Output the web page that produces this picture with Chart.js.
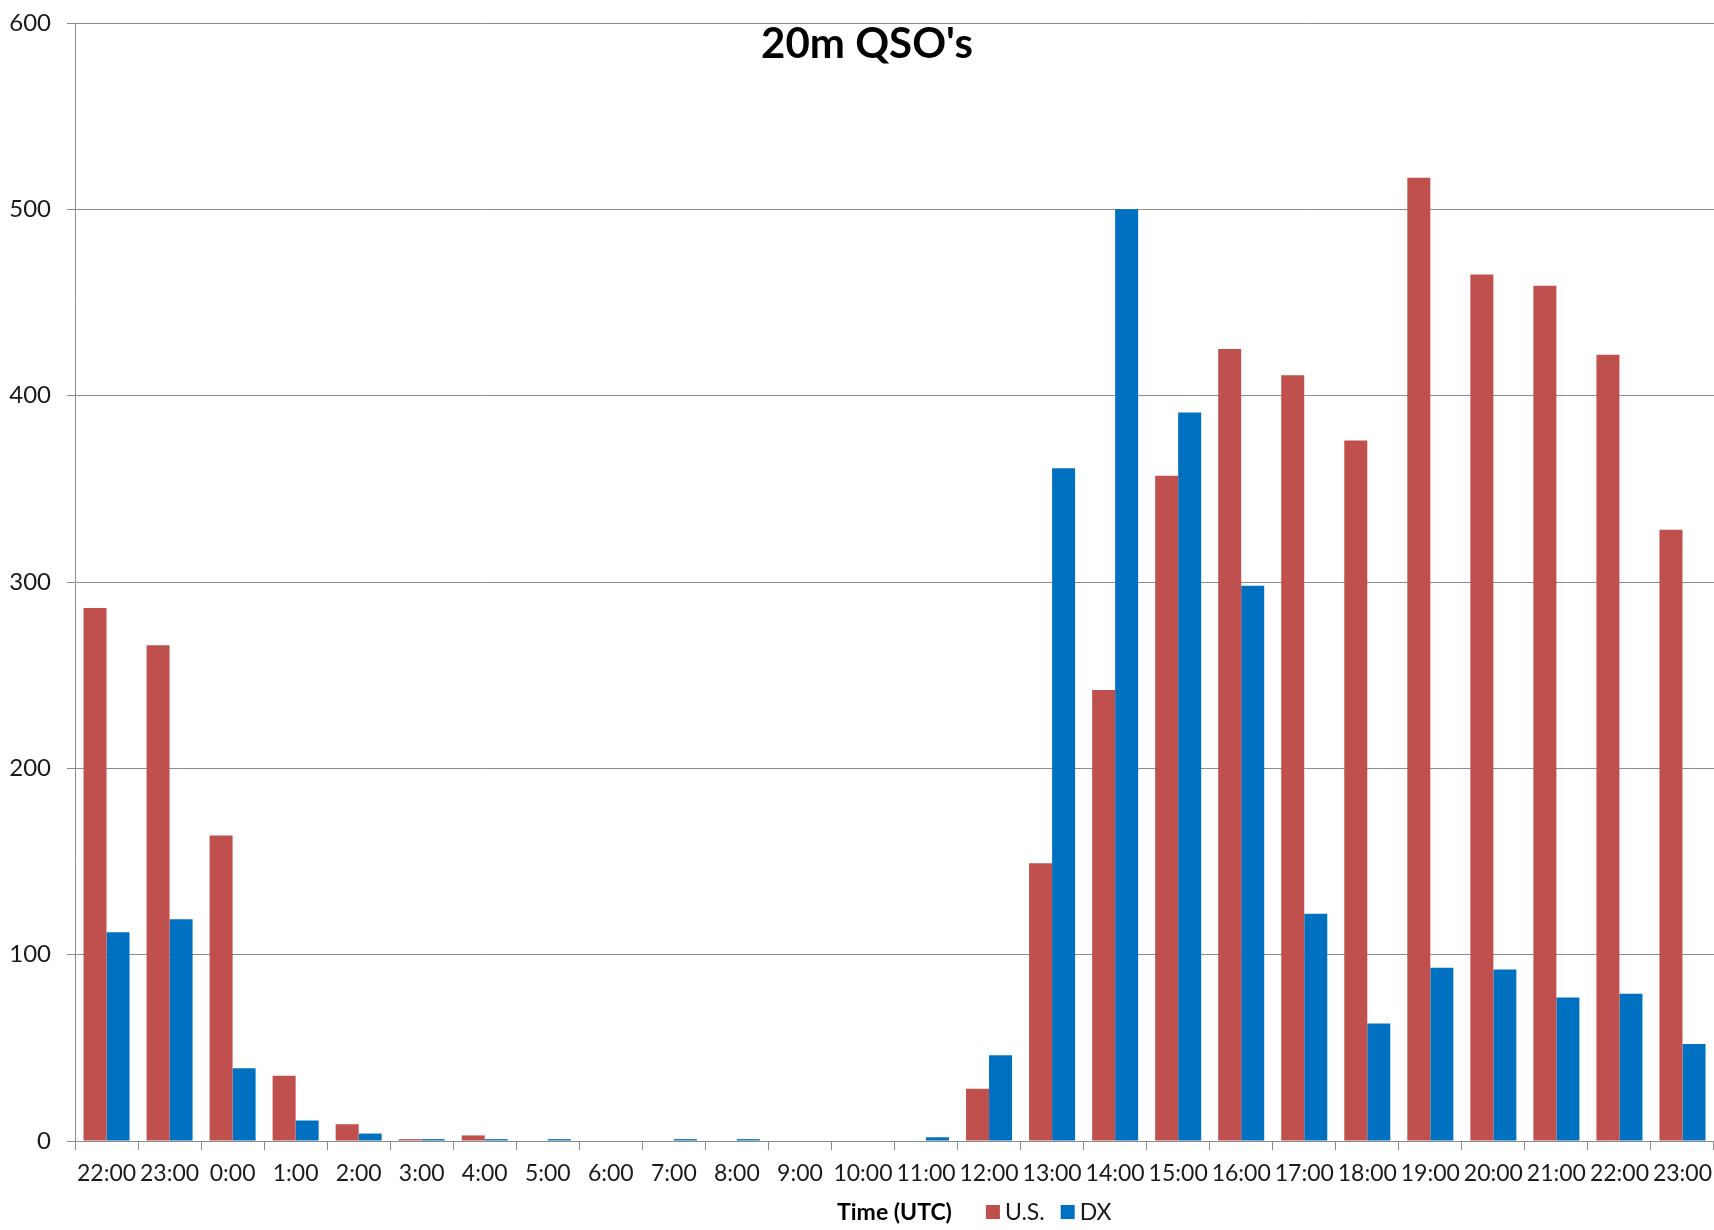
<!DOCTYPE html>
<html>
<head>
<meta charset="utf-8">
<title>20m QSO's</title>
<script src="https://cdn.jsdelivr.net/npm/chart.js@4/dist/chart.umd.min.js"></script>
<style>
  html, body { margin: 0; padding: 0; background: #ffffff; }
  canvas { display: block; }
</style>
</head>
<body>
<canvas id="qsoChart" width="1714" height="1230"></canvas>
<script>
// Hourly 20m contacts, split by U.S. stations and DX stations
const hours = ['22:00', '23:00', '0:00', '1:00', '2:00', '3:00', '4:00', '5:00', '6:00',
  '7:00', '8:00', '9:00', '10:00', '11:00', '12:00', '13:00', '14:00', '15:00', '16:00',
  '17:00', '18:00', '19:00', '20:00', '21:00', '22:00', '23:00'];
const usQsos = [286, 266, 164, 35, 9, 1, 3, 0, 0, 0, 0, 0, 0, 0,
  28, 149, 242, 357, 425, 411, 376, 517, 465, 459, 422, 328];
const dxQsos = [112, 119, 39, 11, 4, 1, 1, 1, 0, 1, 1, 0, 0, 2,
  46, 361, 500, 391, 298, 122, 63, 93, 92, 77, 79, 52];
const seriesNames = ['U.S.', 'DX'];
const seriesColors = ['#C0504D', '#0070C0'];
const chartTitle = "20m QSO's";
const axisTitle = 'Time (UTC)';
const yMin = 0, yMax = 600, yStep = 100;

const FONT = 'Lato, "Open Sans", "DejaVu Sans", sans-serif';
const GRID = '#8c8c8c';

// Title sits inside the plot area, just under the top gridline
const titlePlugin = {
  id: 'insideTitle',
  afterDraw(chart) {
    const { ctx, chartArea } = chart;
    ctx.save();
    ctx.font = 'bold 42px ' + FONT;
    ctx.fillStyle = '#000000';
    ctx.textAlign = 'center';
    ctx.textBaseline = 'middle';
    ctx.fillText(chartTitle, chart.width / 2 + 10, chartArea.top + 21);
    ctx.restore();
  }
};

// Series key drawn on the same line as the x-axis title
const inlineLegend = {
  id: 'inlineLegend',
  afterDraw(chart) {
    const { ctx, chartArea } = chart;
    const xScale = chart.scales.x;
    ctx.save();
    ctx.font = 'bold 23px ' + FONT;
    const titleW = ctx.measureText(axisTitle).width;
    const cx = (chartArea.left + chartArea.right) / 2;
    const y = xScale.bottom - 18;
    let x = cx + titleW / 2 + 34;
    ctx.font = '23px ' + FONT;
    ctx.textAlign = 'left';
    ctx.textBaseline = 'middle';
    chart.data.datasets.forEach((ds) => {
      ctx.fillStyle = ds.backgroundColor;
      ctx.fillRect(x, y - 7, 14, 14);
      ctx.fillStyle = '#1a1a1a';
      ctx.fillText(ds.label, x + 19, y + 1);
      x += 19 + ctx.measureText(ds.label).width + 16;
    });
    ctx.restore();
  }
};

function build() {
  new Chart(document.getElementById('qsoChart'), {
    type: 'bar',
    data: {
      labels: hours,
      datasets: [
        { label: seriesNames[0], data: usQsos, backgroundColor: seriesColors[0] },
        { label: seriesNames[1], data: dxQsos, backgroundColor: seriesColors[1] }
      ]
    },
    options: {
      responsive: false,
      animation: false,
      devicePixelRatio: 1,
      datasets: { bar: { categoryPercentage: 0.73, barPercentage: 1.0, borderWidth: 0 } },
      layout: { padding: { top: 23, left: 0, right: 0, bottom: 0 } },
      plugins: {
        legend: { display: false },
        title: { display: false },
        tooltip: { enabled: false }
      },
      scales: {
        x: {
          afterFit(scale) {
            scale.height = 89;
            scale.paddingLeft = 0;
            scale.paddingRight = 0;
          },
          grid: {
            display: true,
            drawOnChartArea: false,
            drawTicks: true,
            tickLength: 9,
            color: GRID,
            offset: true
          },
          border: { display: true, color: GRID, width: 1 },
          ticks: {
            autoSkip: false,
            maxRotation: 0,
            minRotation: 0,
            padding: 10,
            color: '#1a1a1a',
            font: { family: FONT, size: 23 }
          },
          title: {
            display: true,
            text: axisTitle,
            color: '#000000',
            font: { family: FONT, size: 23, weight: 'bold' },
            padding: { top: 14, bottom: 4 }
          }
        },
        y: {
          min: yMin,
          max: yMax,
          afterFit(scale) {
            scale.width = 75;
            scale.paddingTop = 0;
            scale.paddingBottom = 0;
          },
          grid: { color: GRID, lineWidth: 1, drawTicks: true, tickLength: 8 },
          border: { display: true, color: GRID, width: 1 },
          ticks: {
            stepSize: yStep,
            padding: 16,
            color: '#1a1a1a',
            font: { family: FONT, size: 24 }
          }
        }
      }
    },
    plugins: [titlePlugin, inlineLegend]
  });
}

if (document.fonts && document.fonts.load) {
  Promise.all([document.fonts.load('22px Lato'), document.fonts.load('bold 22px Lato')])
    .then(build, build);
} else {
  build();
}
</script>
</body>
</html>
